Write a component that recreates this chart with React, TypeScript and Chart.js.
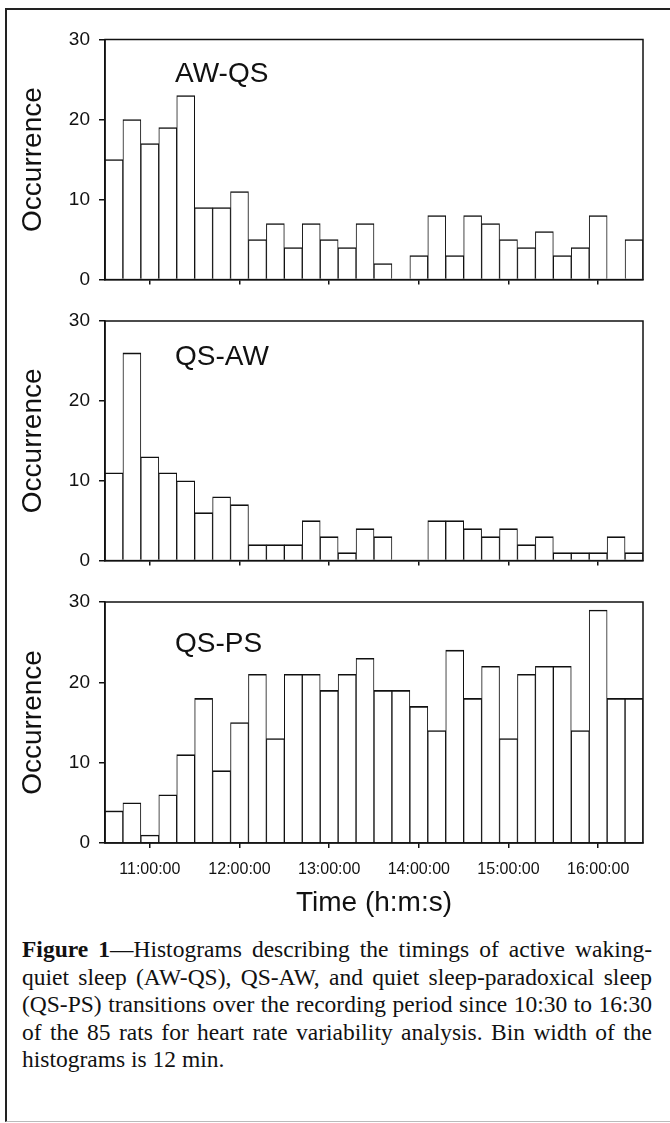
import React, { useEffect, useRef } from 'react';
import { Chart, registerables } from 'chart.js';

Chart.register(...registerables);

// Bin start times in minutes after midnight (10:30 .. 16:18), bin width 12 min
const binStarts = [630, 642, 654, 666, 678, 690, 702, 714, 726, 738, 750, 762, 774, 786, 798, 810, 822, 834, 846, 858, 870, 882, 894, 906, 918, 930, 942, 954, 966, 978];
const binWidth = 12;

const awQs = [15, 20, 17, 19, 23, 9, 9, 11, 5, 7, 4, 7, 5, 4, 7, 2, 0, 3, 8, 3, 8, 7, 5, 4, 6, 3, 4, 8, 0, 5];
const qsAw = [11, 26, 13, 11, 10, 6, 8, 7, 2, 2, 2, 5, 3, 1, 4, 3, 0, 0, 5, 5, 4, 3, 4, 2, 3, 1, 1, 1, 3, 1];
const qsPs = [4, 5, 1, 6, 11, 18, 9, 15, 21, 13, 21, 21, 19, 21, 23, 19, 19, 17, 14, 24, 18, 22, 13, 21, 22, 22, 14, 29, 18, 18];

const hourTicks = [660, 720, 780, 840, 900, 960];
const hourLabels = ['11:00:00', '12:00:00', '13:00:00', '14:00:00', '15:00:00', '16:00:00'];
const yTicks = [0, 10, 20, 30];

const xMin = 630;
const xMax = 990;

const SANS = '"Liberation Sans", Arial, Helvetica, sans-serif';
const INK = '#111';

const panelPlugin = {
  id: 'panelDecor',
  afterDraw(chart: any, _args: any, opts: any) {
    const { ctx, chartArea: a } = chart;
    ctx.save();
    ctx.strokeStyle = INK;
    ctx.lineWidth = 1.5;
    ctx.strokeRect(a.left, a.top, a.right - a.left, a.bottom - a.top);
    ctx.fillStyle = INK;
    ctx.font = `28px ${SANS}`;
    ctx.textAlign = 'left';
    ctx.textBaseline = 'alphabetic';
    ctx.fillText(opts.label, a.left + 70, a.top + opts.labelOffset);
    ctx.restore();
  },
};

type PanelProps = {
  values: number[];
  label: string;
  top: number;
  height: number;
  padTop: number;
  xAxisHeight: number;
  showX: boolean;
  labelOffset: number;
};

function Panel({ values, label, top, height, padTop, xAxisHeight, showX, labelOffset }: PanelProps) {
  const ref = useRef<HTMLCanvasElement | null>(null);
  useEffect(() => {
    if (!ref.current) return;
    const chart = new Chart(ref.current, {
      type: 'bar',
      data: {
        datasets: [
          {
            data: values.map((v, i) => ({ x: binStarts[i] + binWidth / 2, y: v })),
            backgroundColor: '#ffffff',
            borderColor: INK,
            borderWidth: { top: 1.6, left: 1, right: 1, bottom: 0 },
            borderSkipped: 'start',
            barPercentage: 1,
            categoryPercentage: 1,
          } as any,
        ],
      },
      options: {
        animation: false,
        responsive: false,
        devicePixelRatio: 1,
        layout: { padding: { top: padTop, right: 27, left: 0, bottom: 0 } },
        plugins: {
          legend: { display: false },
          tooltip: { enabled: false },
          panelDecor: { label, labelOffset },
        } as any,
        scales: {
          x: {
            type: 'linear',
            min: xMin,
            max: xMax,
            offset: false,
            afterBuildTicks: (s: any) => {
              s.ticks = hourTicks.map((v) => ({ value: v }));
            },
            afterFit: (s: any) => {
              s.height = xAxisHeight;
            },
            grid: {
              offset: false,
              drawOnChartArea: false,
              drawTicks: true,
              tickLength: 5,
              color: INK,
              lineWidth: 1.5,
            },
            border: { display: true, color: INK, width: 1.5 },
            ticks: {
              display: showX,
              padding: 12,
              autoSkip: false,
              maxRotation: 0,
              color: INK,
              font: { family: SANS, size: 16 },
              callback: (v: any) => {
                const idx = hourTicks.indexOf(Number(v));
                return idx >= 0 ? hourLabels[idx] : '';
              },
            },
            title: {
              display: showX,
              text: 'Time (h:m:s)',
              color: INK,
              font: { family: SANS, size: 28 },
              padding: { top: 0, bottom: 0 },
            },
          },
          y: {
            min: 0,
            max: 30,
            afterBuildTicks: (s: any) => {
              s.ticks = yTicks.map((v) => ({ value: v }));
            },
            afterFit: (s: any) => {
              s.width = 105;
            },
            grid: {
              drawOnChartArea: false,
              drawTicks: true,
              tickLength: 6,
              color: INK,
              lineWidth: 1.5,
            },
            border: { display: true, color: INK, width: 1.5 },
            ticks: {
              padding: 9,
              color: INK,
              font: { family: SANS, size: 19 },
            },
            title: {
              display: true,
              text: 'Occurrence',
              color: INK,
              font: { family: SANS, size: 28 },
              padding: { top: 16, bottom: 0 },
            },
          },
        },
      } as any,
      plugins: [panelPlugin],
    });
    return () => chart.destroy();
  }, []);
  return (
    <canvas
      ref={ref}
      width={670}
      height={height}
      style={{ position: 'absolute', left: 0, top, width: 670, height, display: 'block' }}
    />
  );
}

const captionLines = [
  'quiet sleep (AW-QS), QS-AW, and quiet sleep-paradoxical sleep',
  '(QS-PS) transitions over the recording period since 10:30 to 16:30',
  'of the 85 rats for heart rate variability analysis. Bin width of the',
];

export default function App() {
  const lineStyle: React.CSSProperties = {
    textAlign: 'justify',
    textAlignLast: 'justify' as any,
    height: 27.5,
    lineHeight: '27.5px',
  };
  return (
    <div style={{ position: 'absolute', left: 0, top: 0, width: 670, height: 1123, background: '#fff', overflow: 'hidden' }}>
      <div
        style={{
          position: 'absolute',
          left: 5,
          top: 8,
          width: 700,
          height: 1111,
          borderLeft: '2px solid #222',
          borderTop: '2px solid #222',
          borderBottom: '1px solid #bbb',
        }}
      />
      <Panel values={awQs} label="AW-QS" top={0} height={300} padTop={39.5} xAxisHeight={19} showX={false} labelOffset={42.5} />
      <Panel values={qsAw} label="QS-AW" top={300} height={281} padTop={21} xAxisHeight={19} showX={false} labelOffset={44} />
      <Panel values={qsPs} label="QS-PS" top={581} height={339} padTop={21} xAxisHeight={77} showX={true} labelOffset={49.5} />
      <div
        style={{
          position: 'absolute',
          left: 22,
          top: 936,
          width: 630,
          fontFamily: '"Liberation Serif", "Times New Roman", Times, serif',
          fontSize: 23.5,
          color: '#111',
        }}
      >
        <div style={lineStyle}>
          <b>Figure 1</b>—Histograms describing the timings of active waking-
        </div>
        {captionLines.map((t, i) => (
          <div key={i} style={lineStyle}>
            {t}
          </div>
        ))}
        <div style={{ height: 27.5, lineHeight: '27.5px' }}>histograms is 12 min.</div>
      </div>
    </div>
  );
}
